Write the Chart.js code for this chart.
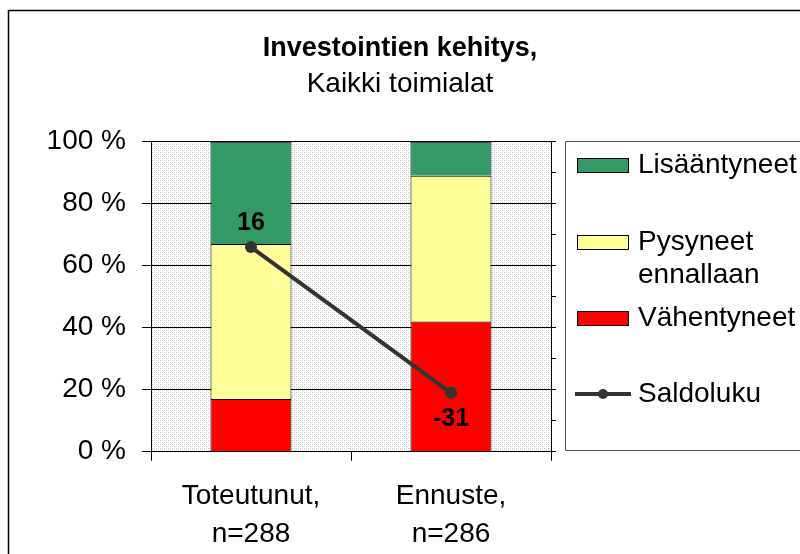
<!DOCTYPE html>
<html>
<head>
<meta charset="utf-8">
<script src="https://cdn.jsdelivr.net/npm/chart.js@4"></script>
<style>
  html, body { margin: 0; padding: 0; background: #fff; }
  #wrap { width: 800px; height: 554px; position: relative; }
</style>
</head>
<body>
<div id="wrap"><canvas id="chart"></canvas></div>
<script>
// data
const categories = [['Toteutunut,', 'n=288'], ['Ennuste,', 'n=286']];
const vahentyneet = [17, 42];
const pysyneet = [50, 47];
const lisaantyneet = [33, 11];
const saldoluku = [16, -31];
const yTicks = [0, 20, 40, 60, 80, 100];

const FONT = '"Liberation Sans", Arial, sans-serif';
Chart.defaults.font.family = FONT;
Chart.defaults.color = '#000';

// sparse dotted plot background
function makePattern() {
	const c = document.createElement('canvas');
	c.width = 4; c.height = 4;
	const g = c.getContext('2d');
	g.fillStyle = '#ffffff';
	g.fillRect(0, 0, 4, 4);
	g.fillStyle = '#c4c4c4';
	g.fillRect(0, 0, 1, 1);
	g.fillRect(2, 2, 1, 1);
	g.fillStyle = '#e6e6e6';
	g.fillRect(2, 0, 1, 1);
	g.fillRect(0, 2, 1, 1);
	return g.createPattern(c, 'repeat');
}

const plotBg = {
	id: 'plotBg',
	beforeDraw(chart) {
		const { ctx, chartArea: a } = chart;
		ctx.save();
		ctx.fillStyle = makePattern();
		ctx.fillRect(a.left, a.top, a.right - a.left, a.bottom - a.top);
		ctx.restore();
	}
};

// value labels for Saldoluku
const saldoLabels = {
	id: 'saldoLabels',
	afterDatasetsDraw(chart) {
		const ctx = chart.ctx;
		const meta = chart.getDatasetMeta(3);
		ctx.save();
		ctx.font = 'bold 25px ' + FONT;
		ctx.fillStyle = '#000';
		ctx.textAlign = 'center';
		ctx.textBaseline = 'middle';
		meta.data.forEach((pt, i) => {
			const v = saldoluku[i];
			const dy = v >= 0 ? -24 : 26;
			ctx.fillText(String(v), pt.x, pt.y + dy);
		});
		ctx.restore();
	}
};

// outer frame + Excel style legend box
const frameLegend = {
	id: 'frameLegend',
	afterDraw(chart) {
		const ctx = chart.ctx;
		ctx.save();
		ctx.strokeStyle = '#000';
		ctx.lineWidth = 1.5;
		ctx.strokeRect(8.5, 10.5, 820, 560);

		// legend box
		ctx.strokeStyle = '#555';
		ctx.lineWidth = 1;
		ctx.strokeRect(565.5, 141.5, 260, 309);

		const order = [2, 1, 0, 3];
		const rowY = [165, 242, 318, 394];
		ctx.font = '28px ' + FONT;
		ctx.textBaseline = 'middle';
		ctx.textAlign = 'left';
		order.forEach((di, k) => {
			const ds = chart.data.datasets[di];
			const y = rowY[k];
			if (ds.type === 'line') {
				ctx.strokeStyle = ds.borderColor;
				ctx.lineWidth = 4;
				ctx.beginPath();
				ctx.moveTo(575, y);
				ctx.lineTo(631, y);
				ctx.stroke();
				ctx.fillStyle = ds.borderColor;
				ctx.beginPath();
				ctx.arc(603, y, 5, 0, Math.PI * 2);
				ctx.fill();
			} else {
				ctx.fillStyle = ds.backgroundColor;
				ctx.fillRect(577, y - 7, 51, 14);
				ctx.strokeStyle = '#000';
				ctx.lineWidth = 1;
				ctx.strokeRect(577.5, y - 6.5, 51, 14);
			}
			ctx.fillStyle = '#000';
			let lines = [ds.label];
			if (ctx.measureText(ds.label).width > 165 && ds.label.indexOf(' ') > 0) {
				lines = ds.label.split(' ');
			}
			lines.forEach((t, j) => ctx.fillText(t, 638, y + j * 33));
		});
		ctx.restore();
	}
};

new Chart(document.getElementById('chart'), {
	type: 'bar',
	data: {
		labels: categories,
		datasets: [{
			label: 'Vähentyneet',
			data: vahentyneet,
			backgroundColor: '#ff0000',
			borderColor: '#000',
			borderWidth: 1,
			order: 1
		}, {
			label: 'Pysyneet ennallaan',
			data: pysyneet,
			backgroundColor: '#ffff99',
			borderColor: '#000',
			borderWidth: 1,
			order: 1
		}, {
			label: 'Lisääntyneet',
			data: lisaantyneet,
			backgroundColor: '#339966',
			borderColor: '#000',
			borderWidth: 1,
			order: 1
		}, {
			type: 'line',
			label: 'Saldoluku',
			data: saldoluku,
			yAxisID: 'y1',
			borderColor: '#333333',
			backgroundColor: '#333333',
			borderWidth: 4,
			pointRadius: 6,
			pointBackgroundColor: '#333333',
			pointBorderWidth: 0,
			tension: 0,
			order: 0
		}]
	},
	options: {
		responsive: true,
		maintainAspectRatio: false,
		animation: false,
		categoryPercentage: 1,
		barPercentage: 0.405,
		layout: { padding: 0 },
		plugins: {
			legend: { display: false },
			tooltip: { enabled: false },
			title: {
				display: true,
				text: 'Investointien kehitys,',
				font: { size: 27, weight: 'bold', lineHeight: 1 },
				padding: { top: 35, bottom: 0 }
			},
			subtitle: {
				display: true,
				text: 'Kaikki toimialat',
				color: '#000',
				font: { size: 28, weight: 'normal', lineHeight: 1 },
				padding: { top: 8, bottom: 43.7 }
			}
		},
		scales: {
			x: {
				stacked: true,
				grid: {
					drawOnChartArea: false,
					tickLength: 9,
					color: '#000'
				},
				border: { color: '#000' },
				ticks: {
					font: { size: 28, lineHeight: 1.35 },
					padding: 17,
					maxRotation: 0
				},
				afterFit(scale) { scale.height = 102.3; }
			},
			y: {
				stacked: true,
				min: 0,
				max: 100,
				afterBuildTicks(scale) { scale.ticks = yTicks.map(v => ({ value: v })); },
				grid: { color: '#000', tickLength: 9 },
				border: { color: '#000' },
				ticks: {
					font: { size: 28 },
					padding: 16,
					callback: v => v + ' %'
				},
				afterFit(scale) { scale.width = 151; }
			},
			y1: {
				position: 'right',
				stacked: false,
				min: -50,
				max: 50,
				ticks: { display: false, stepSize: 10 },
				grid: { drawOnChartArea: false, tickLength: 5, color: '#000' },
				border: { color: '#000' },
				afterFit(scale) { scale.width = 249; }
			}
		}
	},
	plugins: [plotBg, saldoLabels, frameLegend]
});
</script>
</body>
</html>
